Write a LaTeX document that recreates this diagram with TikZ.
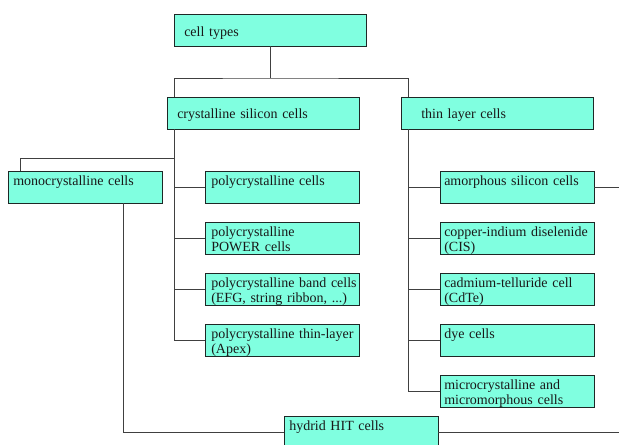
\documentclass[tikz,border=0pt]{standalone}
\usepackage{fontspec}
\setmainfont{Liberation Serif}
\usetikzlibrary{calc}
\definecolor{aqua}{RGB}{128,255,224}
\definecolor{edge}{RGB}{30,40,38}
\tikzset{
  cellbox/.style={draw=edge, fill=aqua, line width=0.65pt, anchor=north west,
    inner sep=0pt, outer sep=0pt, minimum height=32*0.75pt},
  celltext/.style={anchor=base west, inner sep=0pt, text width=200*0.75pt, align=left,
    font=\fontsize{10.5}{11.7}\selectfont, text=black!90},
  link/.style={draw=black!75, line width=0.75pt}
}
\newcommand\mkcell[7]{%
  \node[cellbox, minimum width=#4*0.75pt] (#1) at (#2,#3) {};
  \node[celltext] (#1-t) at ($(#1.north west)+(#5,#6)$) {#7};}
\begin{document}
\begin{tikzpicture}[x=0.75pt,y=-0.75pt]
\clip (0,0) rectangle (619,444);
\fill[white] (0,0) rectangle (619,444);
\coordinate (rim) at (619,0);
% boxes
\mkcell{ct}{174}{14}{192}{10}{22}{cell types}
\mkcell{cs}{167}{97}{192}{10}{21}{crystalline silicon cells}
\mkcell{tl}{401}{97}{192}{20}{21}{thin layer cells}
\mkcell{mono}{8}{171}{154}{5}{14}{monocrystalline cells}
\mkcell{p1}{205}{171}{154}{6}{14}{polycrystalline cells}
\mkcell{p2}{205}{222}{154}{6}{14}{polycrystalline\\POWER cells}
\mkcell{p3}{205}{273}{154}{6}{14}{polycrystalline band cells\\(EFG, string ribbon, ...)}
\mkcell{p4}{205}{324}{154}{6}{14}{polycrystalline thin-layer\\(Apex)}
\mkcell{t1}{440}{171}{154}{4}{14}{amorphous silicon cells}
\mkcell{t2}{440}{222}{154}{4}{14}{copper-indium diselenide\\(CIS)}
\mkcell{t3}{440}{273}{154}{4}{14}{cadmium-telluride cell\\(CdTe)}
\mkcell{t4}{440}{324}{154}{4}{14}{dye cells}
\mkcell{t5}{440}{375}{154}{4}{14}{microcrystalline and\\micromorphous cells}
\mkcell{h}{284}{416}{154}{5}{14}{hydrid HIT cells}
% top connectors
\draw[link] (ct.south) -- ++(0,32) coordinate (j);
\draw[link] ($(cs.north west)+(7,0)$) |- (j) -| ($(tl.north west)+(7,0)$);
% crystalline spine
\coordinate (cspine) at ($(cs.south west)+(7,0)$);
\draw[link] (cspine) |- (p4.west);
\draw[link] (p1.west) -- (p1.west -| cspine);
\draw[link] (p2.west) -- (p2.west -| cspine);
\draw[link] (p3.west) -- (p3.west -| cspine);
\coordinate (monoj) at ($(cspine)+(0,29)$);
\draw[link] ($(mono.north west)+(12,0)$) |- (monoj);
% thin layer spine
\coordinate (tspine) at ($(tl.south west)+(7,0)$);
\draw[link] (tspine) |- (t5.west);
\draw[link] (t1.west) -- (t1.west -| tspine);
\draw[link] (t2.west) -- (t2.west -| tspine);
\draw[link] (t3.west) -- (t3.west -| tspine);
\draw[link] (t4.west) -- (t4.west -| tspine);
\draw[link] (t1.east) -- (t1.east -| rim);
% hybrid line
\draw[link] ($(mono.south west)+(115,0)$) |- (h.west);
\draw[link] (h.east) -- (h.east -| rim);
\end{tikzpicture}
\end{document}
